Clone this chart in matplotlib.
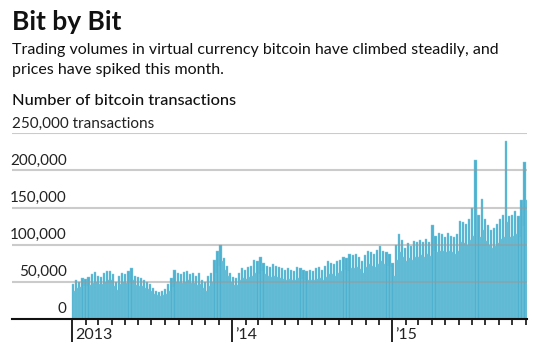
#!/usr/bin/env python3
import numpy as np
import pandas as pd
import matplotlib.pyplot as plt

# weekly readings (thousands of transactions), first week starts 2013-01-01
# high = weekday level, low = weekend level
weekly_high = [
    # 2013
    47, 52, 50, 55, 54,  56, 60, 63, 58,  57, 62, 65, 64,  60, 50, 58, 62, 60,
    64, 68, 58, 56,  55, 52, 50, 47,  42, 38, 36, 38, 40,  47, 55, 66, 62,
    60, 63, 65, 60,  62, 58, 62, 52, 50,  58, 62, 80, 92,  99, 82, 72, 62, 56,
    # 2014
    55, 62, 68, 66,  70, 72, 80, 78,  84, 76, 72, 70,  74, 72, 70, 68, 66,
    68, 66, 64, 70,  68, 66, 64, 66,  65, 68, 70, 66, 72,  78, 76, 74, 78,
    80, 84, 82, 88,  86, 88, 84, 78, 86,  92, 90, 88, 93,  98, 92, 90, 88, 75,
    # 2015
    100, 115, 106, 95,  102, 98, 105, 104,  106, 103, 108, 104,
    126, 112, 116, 114, 110,  116, 112, 110, 114,  132, 130, 128, 135,
    150, 214, 140, 162, 135,  126, 120, 122, 128,  135, 140, 240, 138,
    140, 145, 138, 160,  211,
]
weekly_low = [
    # 2013
    38, 42, 43, 44, 45,  46, 48, 50, 47,  47, 50, 52, 53,  45, 39, 47, 50, 49,
    50, 52, 46, 45,  44, 42, 40, 38,  34, 32, 31, 32, 34,  38, 43, 50, 50,
    48, 50, 52, 48,  48, 46, 47, 42, 38,  45, 50, 62, 72,  78, 66, 58, 50, 46,
    # 2014
    46, 52, 55, 54,  56, 58, 62, 60,  64, 60, 58, 56,  58, 56, 55, 54, 53,
    54, 53, 52, 55,  54, 53, 52, 53,  52, 54, 55, 53, 57,  60, 60, 58, 62,
    64, 66, 65, 68,  68, 70, 67, 62, 70,  74, 72, 70, 74,  78, 74, 72, 70, 58,
    # 2015
    80, 90, 84, 78,  82, 80, 84, 84,  86, 84, 88, 85,
    92, 90, 92, 92, 90,  92, 90, 88, 92,  104, 102, 100, 106,
    112, 150, 110, 120, 105,  100, 95, 98, 102,  108, 110, 130, 110,
    112, 115, 110, 125,  160,
]
year_labels = ["2013", "\u201914", "\u201915"]
y_ticks = [0, 50000, 100000, 150000, 200000, 250000]
y_labels = ["0", "50,000", "100,000", "150,000", "200,000", "250,000 transactions"]

BAR = "#4db1cf"
FONT = "Lato"

start = pd.Timestamp("2013-01-01")
days = np.arange(len(weekly_high)) * 7
high = np.array(weekly_high) * 1000
low = np.array(weekly_low) * 1000

fig = plt.figure(figsize=(5.42, 3.52), dpi=100)
ax = fig.add_axes([12 / 542, 33 / 352, 515 / 542, 185.7 / 352])

ax.bar(days, high, width=5, align="edge", color=BAR, edgecolor="#86cbe0",
       linewidth=0.3, zorder=2)
ax.bar(days + 5, low, width=2, align="edge", color=BAR, edgecolor="#86cbe0",
       linewidth=0.3, zorder=2)

ax.set_xlim(-137, 1037)
ax.set_ylim(0, 250000)

# gridlines over the bars
for i, (v, lab) in enumerate(zip(y_ticks, y_labels)):
    if v > 0:
        ax.axhline(v, color="#999999", alpha=0.5, lw=1.5, zorder=3)
    if i == len(y_ticks) - 1:
        ax.text(-137, v + 3500, lab, ha="left", va="bottom", fontsize=11,
                family=FONT, color="#222222")
    else:
        ax.text(-12, v + 3500, lab, ha="right", va="bottom", fontsize=11,
                family=FONT, color="#222222")

for s in ["top", "right", "left"]:
    ax.spines[s].set_visible(False)
ax.spines["bottom"].set_linewidth(1.5)
ax.spines["bottom"].set_color("#111111")
ax.spines["bottom"].set_zorder(4)
ax.set_yticks([])

months = pd.date_range("2013-01-01", "2015-11-01", freq="MS")
month_pos = [(m - start).days for m in months]
years = [m for m in months if m.month == 1]
year_pos = [(m - start).days for m in years]
ax.set_xticks(month_pos, minor=True)
ax.set_xticks(year_pos)
ax.set_xticklabels([])
ax.tick_params(axis="x", which="minor", length=4, width=1.2, color="#111111")
ax.tick_params(axis="x", which="major", length=16.5, width=1.3, color="#111111")
for p, lab in zip(year_pos, year_labels):
    ax.text(p + 6, -11500, lab, ha="left", va="top", fontsize=11.5,
            family=FONT, color="#222222")

fig.text(12 / 542, 1 - 30 / 352, "Bit by Bit", fontsize=19, fontweight="bold",
         family=FONT, color="#111111", va="baseline")
fig.text(12 / 542, 1 - 54 / 352,
         "Trading volumes in virtual currency bitcoin have climbed steadily, and",
         fontsize=11.5, family=FONT, color="#111111", va="baseline")
fig.text(12 / 542, 1 - 74 / 352, "prices have spiked this month.",
         fontsize=11.5, family=FONT, color="#111111", va="baseline")
fig.text(12 / 542, 1 - 105 / 352, "Number of bitcoin transactions",
         fontsize=11.8, fontweight="medium", family=FONT, color="#111111",
         va="baseline")

fig.savefig("out.png", dpi=100)
